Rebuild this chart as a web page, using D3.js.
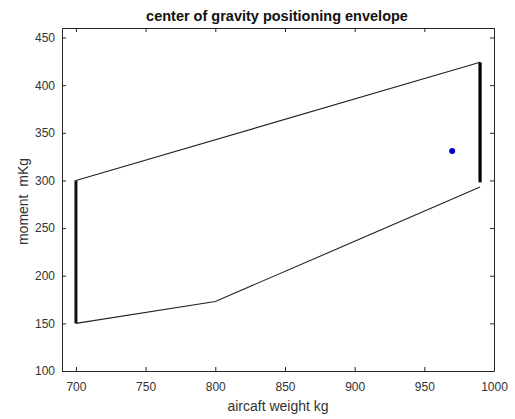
<!DOCTYPE html>
<html>
<head>
<meta charset="utf-8">
<script src="https://cdn.jsdelivr.net/npm/d3@7"></script>
<style>
  body { margin: 0; background: #fff; }
  svg { font-family: "Liberation Sans", Arial, Helvetica, sans-serif; }
</style>
</head>
<body>
<svg id="chart" width="515" height="419"></svg>
<script>
// Envelope boundary (weight kg, moment mKg)
const upperWeights = [700, 990];
const upperMoments = [300, 424];
const lowerWeights = [700, 800, 990];
const lowerMoments = [150, 173, 293];
// Forward/aft limit segments drawn heavy
const leftLimitWeight = [700, 700];
const leftLimitMoments = [150, 300];
const rightLimitWeight = [990, 990];
const rightLimitMoments = [298, 424];
// Current loading point
const pointWeight = [970];
const pointMoment = [331];

const xTicks = [700, 750, 800, 850, 900, 950, 1000];
const yTicks = [100, 150, 200, 250, 300, 350, 400, 450];

const svg = d3.select("#chart");
const plotLeft = 62, plotRight = 494, plotTop = 28, plotBottom = 371;

const x = d3.scaleLinear().domain([690, 1000]).range([plotLeft, plotRight]);
const y = d3.scaleLinear().domain([100, 460]).range([plotBottom, plotTop]);

const axisColor = "#262626";
const tickLen = 4;
const fmt = d3.format("d");

// Axes box with inward ticks on all four sides
const gx = svg.append("g").attr("transform", `translate(0,${plotBottom})`)
  .call(d3.axisBottom(x).tickValues(xTicks).tickFormat(fmt).tickSizeInner(-tickLen).tickSizeOuter(0).tickPadding(11));
const gxTop = svg.append("g").attr("transform", `translate(0,${plotTop})`)
  .call(d3.axisTop(x).tickValues(xTicks).tickSizeInner(-tickLen).tickSizeOuter(0).tickFormat(""));
const gy = svg.append("g").attr("transform", `translate(${plotLeft},0)`)
  .call(d3.axisLeft(y).tickValues(yTicks).tickFormat(fmt).tickSizeInner(-tickLen).tickSizeOuter(0).tickPadding(7));
const gyRight = svg.append("g").attr("transform", `translate(${plotRight},0)`)
  .call(d3.axisRight(y).tickValues(yTicks).tickSizeInner(-tickLen).tickSizeOuter(0).tickFormat(""));

[gx, gxTop, gy, gyRight].forEach(g => {
  g.select(".domain").attr("stroke", axisColor).attr("stroke-width", 1);
  g.selectAll(".tick line").attr("stroke", axisColor);
  g.selectAll(".tick text").attr("fill", "#333").style("font-size", "12px")
    .style("font-family", "'Liberation Sans', Arial, sans-serif");
});

const line = d3.line().x(d => x(d[0])).y(d => y(d[1]));

// Envelope outline
svg.append("path").datum(d3.zip(upperWeights, upperMoments))
  .attr("d", line).attr("fill", "none").attr("stroke", "#222").attr("stroke-width", 1.1);
svg.append("path").datum(d3.zip(lowerWeights, lowerMoments))
  .attr("d", line).attr("fill", "none").attr("stroke", "#222").attr("stroke-width", 1.1);

// Heavy limit lines
svg.append("path").datum(d3.zip(leftLimitWeight, leftLimitMoments))
  .attr("d", line).attr("fill", "none").attr("stroke", "#111").attr("stroke-width", 3);
svg.append("path").datum(d3.zip(rightLimitWeight, rightLimitMoments))
  .attr("d", line).attr("fill", "none").attr("stroke", "#000").attr("stroke-width", 3.2);

// Loading point
svg.selectAll("circle.pt").data(d3.zip(pointWeight, pointMoment)).enter()
  .append("circle").attr("class", "pt")
  .attr("cx", d => x(d[0])).attr("cy", d => y(d[1])).attr("r", 3)
  .attr("fill", "#0000cc");

// Title and axis labels
svg.append("text").attr("x", (plotLeft + plotRight) / 2 - 1).attr("y", 21)
  .attr("text-anchor", "middle").style("font-size", "14.5px").style("font-weight", "bold")
  .attr("fill", "#111").text("center of gravity positioning envelope");
svg.append("text").attr("x", (plotLeft + plotRight) / 2).attr("y", 411)
  .attr("text-anchor", "middle").style("font-size", "14px").attr("fill", "#333")
  .text("aircaft weight kg");
svg.append("text").attr("transform", `translate(28,${(plotTop + plotBottom) / 2 + 2}) rotate(-90)`)
  .attr("text-anchor", "middle").style("font-size", "14px").style("white-space", "pre")
  .attr("fill", "#333").text("moment  mKg");
</script>
</body>
</html>
